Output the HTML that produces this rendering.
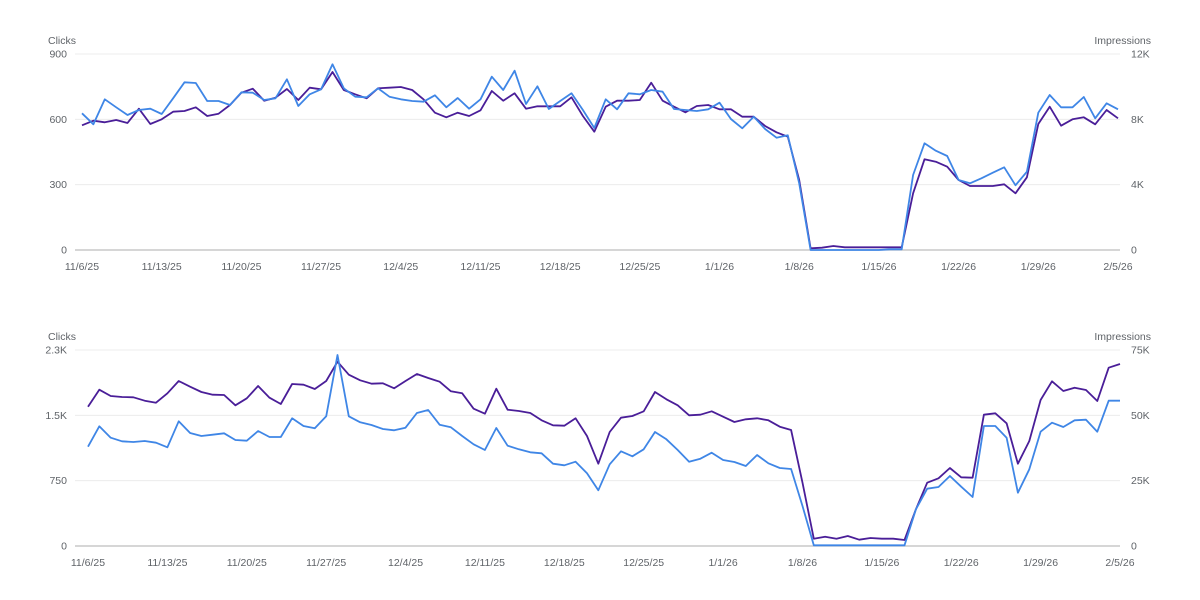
<!DOCTYPE html>
<html><head><meta charset="utf-8"><style>
html,body{margin:0;padding:0;background:#fff;width:1200px;height:600px;overflow:hidden}
svg{display:block}
text{font-family:"Liberation Sans",sans-serif;font-size:10.5px;fill:#5f6368}
</style></head><body>
<svg id="s" width="1200" height="600" xmlns="http://www.w3.org/2000/svg"></svg>
<script>
const tb=[250,283,208,232,255,240,236,252,205,157,159,213,213,225,187,188,210,205,148,228,193,178,103,175,200,202,175,200,208,213,215,196,232,204,236,208,140,180,122,222,169,237,213,190,240,294,208,238,190,193,180,185,237,240,243,238,218,267,295,260,297,323,316,460,660,660,660,660,660,660,660,658,658,435,340,362,378,450,460,445,428,412,466,425,248,195,232,232,201,265,220,238];
const tp=[286,272,277,270,279,236,282,268,245,243,232,258,251,225,188,176,212,203,177,210,173,178,126,180,193,205,175,173,171,180,208,248,262,248,258,241,183,212,190,236,229,229,229,202,258,305,230,212,212,210,158,212,230,247,228,225,238,238,260,260,288,307,320,450,655,653,648,652,652,652,652,652,652,490,388,395,410,450,468,468,468,463,490,442,282,230,287,268,262,283,240,265];
const bb=[352,291,325,336,338,335,340,354,276,311,320,316,312,332,334,305,323,323,267,290,297,261,77,261,279,287,299,303,295,251,242,286,294,320,345,362,296,349,360,369,372,403,408,397,432,483,405,366,381,360,308,330,362,397,388,370,392,398,410,377,402,416,419,530,648,648,648,648,648,648,648,648,648,540,478,473,440,472,503,290,290,325,490,420,307,280,293,273,271,307,214,214];
const bp=[232,181,200,203,204,214,220,192,155,172,188,196,197,228,207,170,205,224,164,166,179,155,97,136,153,163,162,177,155,134,146,157,186,192,238,253,178,241,245,251,273,288,289,267,320,403,308,265,260,246,188,210,228,258,256,246,262,278,270,267,273,292,302,460,628,622,628,620,631,626,628,628,632,540,460,447,416,444,445,256,252,282,403,335,212,156,185,175,182,215,115,104];
const s=document.getElementById('s');let h='';
function chart(top,base,x0,x1,yz0,yzS,L,R,b,p,dy){
 for(let k=0;k<3;k++){let y=top+k*(base-top)/3;h+=`<line x1="75" x2="1120" y1="${y}" y2="${y}" stroke="#ececec" stroke-width="1"/>`;}
 h+=`<line x1="75" x2="1120" y1="${base}" y2="${base}" stroke="#bdbdbd" stroke-width="1.2"/>`;
 h+=`<text x="48" y="${top-10}">Clicks</text><text x="1151" y="${top-10}" text-anchor="end">Impressions</text>`;
 for(let k=0;k<4;k++){let y=top+k*(base-top)/3+3.5;h+=`<text x="67" y="${y}" text-anchor="end">${L[k]}</text><text x="1131" y="${y}">${R[k]}</text>`;}
 const lab=['11/6/25','11/13/25','11/20/25','11/27/25','12/4/25','12/11/25','12/18/25','12/25/25','1/1/26','1/8/26','1/15/26','1/22/26','1/29/26','2/5/26'];
 const st=(x1-x0)/91;
 lab.forEach((t,k)=>{h+=`<text x="${x0+k*7*st}" y="${base+20}" text-anchor="middle">${t}</text>`;});
 const pt=a=>a.map((v,i)=>`${(x0+i*st).toFixed(1)},${(top+(v-yz0)/3).toFixed(1)}`).join(' ');
 h+=`<polyline points="${pt(p)}" fill="none" stroke="#4a1e98" stroke-width="1.8" stroke-linejoin="round"/>`;
 h+=`<polyline points="${pt(b)}" fill="none" stroke="#3f86e6" stroke-width="1.8" stroke-linejoin="round"/>`;
}
chart(54,250,82,1118,72,3,['900','600','300','0'],['12K','8K','4K','0'],tb,tp);
chart(350,546,88,1120,62,3,['2.3K','1.5K','750','0'],['75K','50K','25K','0'],bb,bp);
s.innerHTML=h;
</script>
</body></html>
